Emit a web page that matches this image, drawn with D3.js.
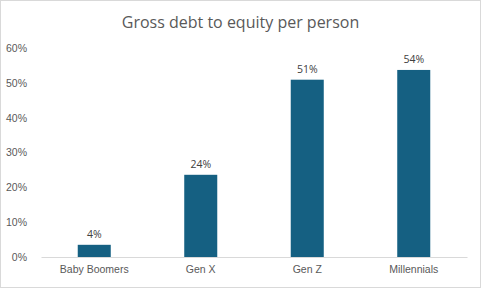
<!DOCTYPE html>
<html>
<head>
<meta charset="utf-8">
<script src="https://cdn.jsdelivr.net/npm/d3@7"></script>
<style>
  body { margin: 0; background: #fff; }
  svg { display: block; font-family: "Open Sans", "Liberation Sans", sans-serif; }
</style>
</head>
<body>
<svg id="chart" width="481" height="288"></svg>
<script>
var categories = ["Baby Boomers", "Gen X", "Gen Z", "Millennials"];
var values = [0.035, 0.236, 0.509, 0.537];
var labels = ["4%", "24%", "51%", "54%"];
var yTicks = [0, 0.1, 0.2, 0.3, 0.4, 0.5, 0.6];

var svg = d3.select("#chart"),
    width = +svg.attr("width"),
    height = +svg.attr("height");

var margin = { top: 48, right: 14, bottom: 31, left: 41 };

// chart border
svg.append("rect")
  .attr("x", 0.5).attr("y", 0.5)
  .attr("width", width - 1).attr("height", height - 1)
  .attr("fill", "#fff")
  .attr("stroke", "#d9d9d9");

svg.append("text")
  .attr("x", width / 2)
  .attr("y", 28)
  .attr("text-anchor", "middle")
  .attr("fill", "#595959")
  .style("font-size", "16px")
  .text("Gross debt to equity per person");

var x = d3.scaleBand()
  .domain(categories)
  .range([margin.left, width - margin.right])
  .paddingInner(0.69)
  .paddingOuter(0.345);

var y = d3.scaleLinear()
  .domain([0, 0.6])
  .range([height - margin.bottom, margin.top]);

// y axis labels, no line
var yAxis = svg.append("g")
  .attr("transform", "translate(" + (margin.left - 11) + ",0)")
  .call(d3.axisLeft(y).tickValues(yTicks).tickFormat(d3.format(".0%")).tickSize(0));
yAxis.select(".domain").remove();
yAxis.selectAll("text")
  .attr("fill", "#595959")
  .style("font-size", "10.5px");

svg.selectAll("rect.bar")
  .data(values)
  .enter().append("rect")
  .attr("class", "bar")
  .attr("x", function(d, i) { return x(categories[i]); })
  .attr("y", function(d) { return y(d); })
  .attr("width", x.bandwidth())
  .attr("height", function(d) { return y(0) - y(d); })
  .attr("fill", "#156082");

svg.selectAll("text.lbl")
  .data(values)
  .enter().append("text")
  .attr("class", "lbl")
  .attr("x", function(d, i) { return x(categories[i]) + x.bandwidth() / 2; })
  .attr("y", function(d) { return y(d) - 7; })
  .attr("text-anchor", "middle")
  .attr("fill", "#404040")
  .style("font-size", "10.5px")
  .text(function(d, i) { return labels[i]; });

// x axis
var xAxis = svg.append("g")
  .attr("transform", "translate(0," + y(0) + ")")
  .call(d3.axisBottom(x).tickSize(0).tickPadding(9));
xAxis.select(".domain").attr("stroke", "#d9d9d9");
xAxis.selectAll("text")
  .attr("fill", "#595959")
  .style("font-size", "10.5px");
</script>
</body>
</html>
